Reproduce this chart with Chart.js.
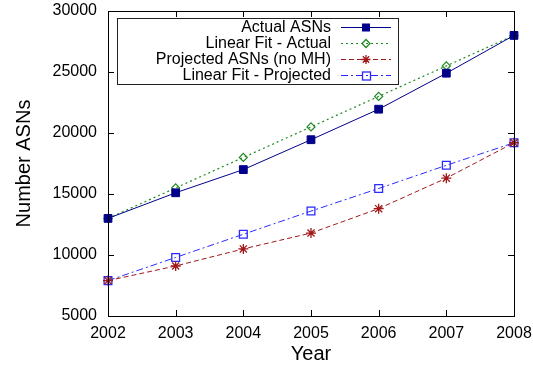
<!DOCTYPE html>
<html>
<head>
<meta charset="utf-8">
<script src="https://cdn.jsdelivr.net/npm/chart.js@4/dist/chart.umd.min.js"></script>
<style>
html,body{margin:0;padding:0;background:#fff;}
#wrap{width:533px;height:366px;position:relative;}
</style>
</head>
<body>
<div id="wrap"><canvas id="c" width="533" height="366"></canvas></div>
<script>
const years = ['2002','2003','2004','2005','2006','2007','2008'];
const actualASNs = [13000, 15100, 17000, 19450, 21950, 24900, 28000];
const linearFitActual = [13000, 15500, 18000, 20500, 23000, 25500, 28000];
const projectedASNs = [7900, 9100, 10500, 11800, 13800, 16300, 19200];
const linearFitProjected = [7900, 9800, 11700, 13600, 15450, 17350, 19200];
const yTicks = [5000, 10000, 15000, 20000, 25000, 30000];
const seriesNames = ['Actual ASNs', 'Linear Fit - Actual', 'Projected ASNs (no MH)', 'Linear Fit - Projected'];

const FONT = "'Liberation Sans', Arial, sans-serif";

const navy = '#00008b';
const green = '#1f8a1f';
const red = '#a01818';
const blue = '#2a2aff';

const seriesStyle = [
  {color: navy, dash: [], marker: 'filledSquare'},
  {color: green, dash: [2, 3], marker: 'diamond'},
  {color: red, dash: [5, 3], marker: 'star'},
  {color: blue, dash: [7, 3, 2, 3], marker: 'openSquare'}
];

function drawMarker(ctx, kind, color, x, y) {
  ctx.save();
  ctx.setLineDash([]);
  ctx.strokeStyle = color;
  ctx.fillStyle = color;
  ctx.lineWidth = 1.3;
  ctx.beginPath();
  if (kind === 'filledSquare') {
    ctx.fillRect(x - 4, y - 4, 8, 8);
  } else if (kind === 'openSquare') {
    ctx.strokeRect(x - 3.5, y - 3.5, 8, 8);
  } else if (kind === 'diamond') {
    ctx.moveTo(x, y - 4); ctx.lineTo(x + 4, y); ctx.lineTo(x, y + 4); ctx.lineTo(x - 4, y); ctx.closePath();
    ctx.stroke();
  } else if (kind === 'star') {
    const r = 4.5, d = r * Math.SQRT1_2;
    ctx.moveTo(x - r, y); ctx.lineTo(x + r, y);
    ctx.moveTo(x, y - r); ctx.lineTo(x, y + r);
    ctx.moveTo(x - d, y - d); ctx.lineTo(x + d, y + d);
    ctx.moveTo(x - d, y + d); ctx.lineTo(x + d, y - d);
    ctx.stroke();
  }
  ctx.restore();
}

const framePlugin = {
  id: 'frame',
  afterDatasetsDraw(chart) {
    const {ctx, chartArea: a, scales} = chart;
    ctx.save();
    ctx.strokeStyle = '#000';
    ctx.lineWidth = 1;
    ctx.setLineDash([]);
    const L = 6;
    scales.y.ticks.forEach(t => {
      const y = Math.round(scales.y.getPixelForValue(t.value)) + 0.5;
      ctx.beginPath();
      ctx.moveTo(a.left, y); ctx.lineTo(a.left + L, y);
      ctx.moveTo(a.right, y); ctx.lineTo(a.right - L, y);
      ctx.stroke();
    });
    years.forEach((yr, i) => {
      const x = Math.round(scales.x.getPixelForValue(i)) + 0.5;
      ctx.beginPath();
      ctx.moveTo(x, a.bottom); ctx.lineTo(x, a.bottom - L);
      ctx.moveTo(x, a.top); ctx.lineTo(x, a.top + L);
      ctx.stroke();
    });
    ctx.strokeRect(Math.round(a.left) + 0.5, Math.round(a.top) + 0.5,
                   Math.round(a.right - a.left), Math.round(a.bottom - a.top));
    ctx.restore();
  }
};

const legendPlugin = {
  id: 'customLegend',
  afterDraw(chart) {
    const ctx = chart.ctx;
    const bx = 117.5, by = 18.5, bw = 281, bh = 66;
    ctx.save();
    ctx.fillStyle = '#fff';
    ctx.fillRect(bx, by, bw, bh);
    ctx.strokeStyle = '#222';
    ctx.lineWidth = 1;
    ctx.setLineDash([]);
    ctx.strokeRect(bx, by, bw, bh);
    ctx.font = '16px ' + FONT;
    ctx.textAlign = 'right';
    ctx.textBaseline = 'middle';
    const rows = [27, 43, 59, 75];
    seriesNames.forEach((name, i) => {
      const y = rows[i];
      const st = seriesStyle[i];
      ctx.fillStyle = '#000';
      ctx.fillText(name, 331, y + 1);
      ctx.strokeStyle = st.color;
      ctx.lineWidth = 1.2;
      ctx.setLineDash(st.dash);
      ctx.beginPath();
      ctx.moveTo(341, y + 0.5); ctx.lineTo(391, y + 0.5);
      ctx.stroke();
      ctx.setLineDash([]);
      drawMarker(ctx, st.marker, st.color, 366, y + 0.5);
    });
    ctx.restore();
  }
};

new Chart(document.getElementById('c'), {
  type: 'line',
  data: {
    labels: years,
    datasets: [
      {label: seriesNames[0], data: actualASNs, borderColor: navy, borderWidth: 1,
       pointStyle: 'rect', pointRadius: 5.5, pointBackgroundColor: navy, pointBorderColor: navy, pointBorderWidth: 1},
      {label: seriesNames[1], data: linearFitActual, borderColor: green, borderWidth: 1.2, borderDash: [2, 3],
       pointStyle: 'rectRot', pointRadius: 4, pointBackgroundColor: 'rgba(0,0,0,0)', pointBorderColor: green, pointBorderWidth: 1.2},
      {label: seriesNames[2], data: projectedASNs, borderColor: red, borderWidth: 1, borderDash: [5, 3],
       pointStyle: 'star', pointRadius: 5, pointBackgroundColor: red, pointBorderColor: red, pointBorderWidth: 1.3},
      {label: seriesNames[3], data: linearFitProjected, borderColor: blue, borderWidth: 1, borderDash: [7, 3, 2, 3],
       pointStyle: 'rect', pointRadius: 5.5, pointBackgroundColor: 'rgba(0,0,0,0)', pointBorderColor: blue, pointBorderWidth: 1.3}
    ]
  },
  options: {
    responsive: false,
    animation: false,
    devicePixelRatio: 1,
    layout: {padding: {left: 0, top: 11, right: 19, bottom: 0}},
    plugins: {legend: {display: false}, tooltip: {enabled: false}},
    elements: {line: {tension: 0}},
    scales: {
      x: {
        type: 'category',
        offset: false,
        grid: {display: false, drawTicks: false},
        border: {display: false},
        ticks: {color: '#000', font: {family: FONT, size: 16}, padding: 8, maxRotation: 0, autoSkip: false},
        title: {display: true, text: 'Year', color: '#000', font: {family: FONT, size: 20}, padding: {top: 6, bottom: 0}},
        afterFit(s) { s.height = 50; s.paddingLeft = 0; s.paddingRight = 0; }
      },
      y: {
        min: 5000, max: 30000,
        afterBuildTicks(s) { s.ticks = yTicks.map(v => ({value: v})); },
        grid: {display: false, drawTicks: false},
        border: {display: false},
        ticks: {color: '#000', font: {family: FONT, size: 16}, padding: 11, callback: v => String(v)},
        title: {display: true, text: 'Number ASNs', color: '#000', font: {family: FONT, size: 20}, padding: {top: 12, bottom: 4}},
        afterFit(s) { s.width = 108; s.paddingTop = 0; s.paddingBottom = 0; }
      }
    }
  },
  plugins: [framePlugin, legendPlugin]
});
</script>
</body>
</html>
